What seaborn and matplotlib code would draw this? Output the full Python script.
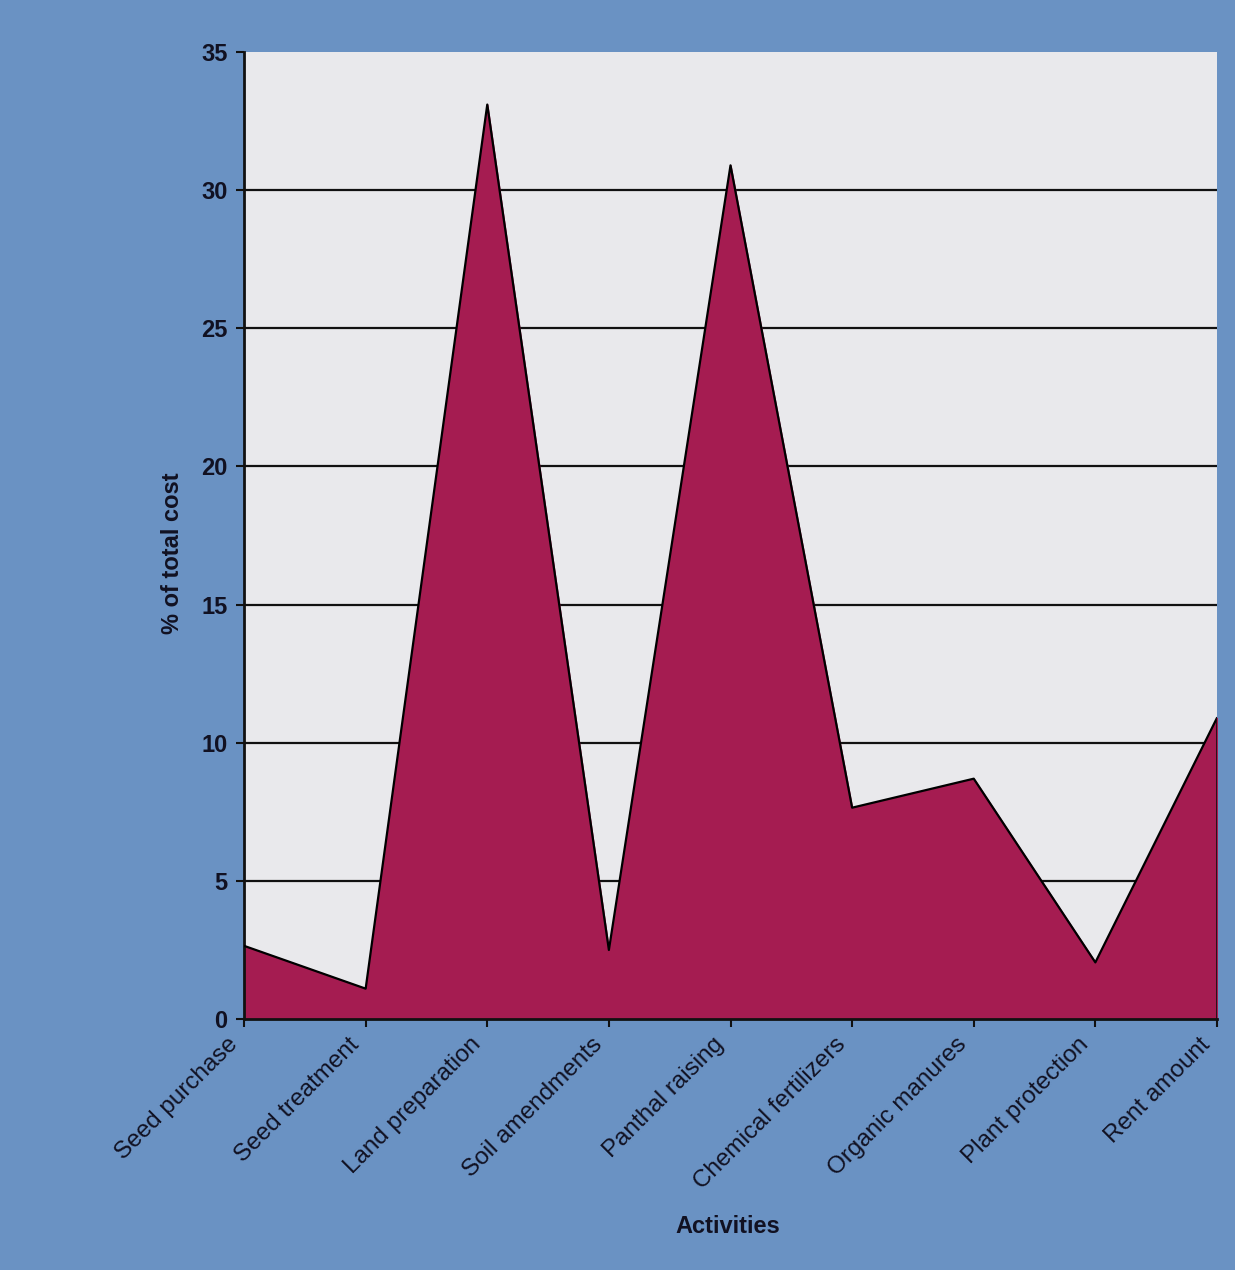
import matplotlib
import numpy as np
import pandas as pd
import seaborn as sns
from matplotlib.transforms import ScaledTranslation

matplotlib.use("Agg")
import matplotlib.pyplot as plt

ACTIVITIES = [
    "Seed purchase",
    "Seed treatment",
    "Land preparation",
    "Soil amendments",
    "Panthal raising",
    "Chemical fertilizers",
    "Organic manures",
    "Plant protection",
    "Rent amount",
]
COST_SHARE = [2.65, 1.1, 33.1, 2.5, 30.9, 7.65, 8.7, 2.05, 10.9]
Y_TICKS = [0, 5, 10, 15, 20, 25, 30, 35]

BG_BLUE = "#6a92c3"
PLOT_BG = "#e9e9ec"
FILL = "#a51c51"
INK = "#111122"


def main() -> None:
    sns.set_theme(style="white")
    plt.rcParams["font.family"] = ["Liberation Sans", "DejaVu Sans"]

    df = pd.DataFrame({"pos": np.arange(len(ACTIVITIES)), "share": COST_SHARE})

    fig = plt.figure(figsize=(12.35, 12.70), dpi=100, facecolor=BG_BLUE)
    ax = fig.add_axes([0.1976, 0.1976, 0.7878, 0.7614])
    ax.set_facecolor(PLOT_BG)

    ax.fill_between(df["pos"], df["share"], 0, color=FILL, zorder=2)
    sns.lineplot(data=df, x="pos", y="share", color="black", linewidth=1.6, ax=ax, zorder=3)

    ax.set_xlim(0, len(ACTIVITIES) - 1)
    ax.set_ylim(0, 35)
    ax.set_yticks(Y_TICKS)
    ax.set_yticklabels([str(t) for t in Y_TICKS], fontsize=17, fontweight="bold", color=INK)
    for t in Y_TICKS[1:-1]:
        ax.axhline(t, color="#111111", linewidth=1.6, zorder=1)

    ax.set_xticks(df["pos"])
    ax.set_xticklabels(ACTIVITIES, rotation=45, ha="right", va="center",
                       rotation_mode="anchor", fontsize=17.5, color=INK)
    ax.tick_params(axis="both", which="both", length=6, width=1.5, color="#111111",
                   direction="out", bottom=True, left=True, pad=6)
    ax.tick_params(axis="x", pad=10)
    shift = ScaledTranslation(-10 / 100, 0, fig.dpi_scale_trans)
    for lab in ax.get_xticklabels():
        lab.set_transform(lab.get_transform() + shift)

    for side in ["top", "right"]:
        ax.spines[side].set_visible(False)
    for side in ["left", "bottom"]:
        ax.spines[side].set_color("#111111")
        ax.spines[side].set_linewidth(2)
    ax.plot([len(ACTIVITIES) - 1] * 2, [0, COST_SHARE[-1]], color="#111111", linewidth=1.2, zorder=3)

    ax.set_xlabel("Activities", fontsize=17, fontweight="bold", color=INK)
    ax.set_ylabel("% of total cost", fontsize=17, fontweight="bold", color=INK)
    ax.xaxis.set_label_coords(0.497, -0.203)
    ax.yaxis.set_label_coords(-0.062, 0.482)

    fig.savefig("out.png", dpi=100, facecolor=BG_BLUE)
    plt.close(fig)


if __name__ == "__main__":
    main()
